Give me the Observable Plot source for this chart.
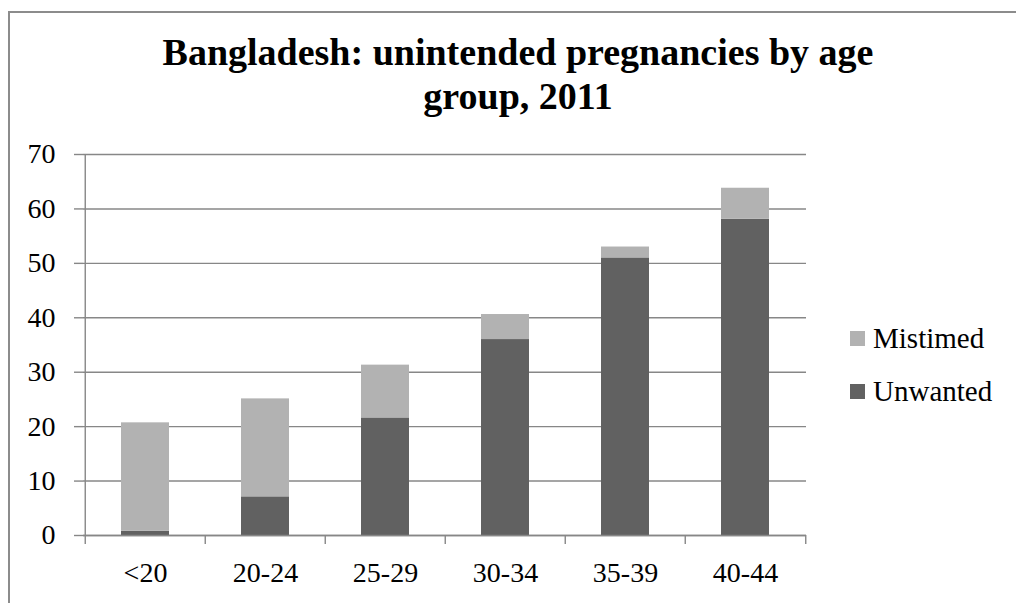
<!DOCTYPE html>
<html>
<head>
<meta charset="utf-8">
<script src="https://cdn.jsdelivr.net/npm/d3@7"></script>
<script src="https://cdn.jsdelivr.net/npm/@observablehq/plot@0.6"></script>
<style>
  html, body { margin: 0; padding: 0; background: #fff; }
  #page { position: relative; width: 1016px; height: 603px; overflow: hidden; font-family: "Liberation Serif", "DejaVu Serif", serif; }
  #box { position: absolute; left: 8px; top: 11px; width: 1200px; height: 800px; border-left: 2px solid #8c8c8c; border-top: 2px solid #8c8c8c; }
  #title { position: absolute; left: 8px; top: 30px; width: 1020px; text-align: center; font-weight: bold; font-size: 38px; line-height: 44px; color: #000; }
  #chart { position: absolute; left: 0; top: 0; }
  .legend { position: absolute; left: 850px; font-size: 29px; line-height: 34px; color: #000; display: flex; align-items: center; }
  .legend span.sw { display: inline-block; width: 15px; height: 15px; margin-right: 8px; }
</style>
</head>
<body>
<div id="page">
  <div id="box"></div>
  <div id="title">Bangladesh: unintended pregnancies by age<br>group, 2011</div>
  <div id="chart"></div>
  <div id="legend"></div>
</div>
<script>
// Age groups and the two components of unintended pregnancies (%)
const ageGroups = ["<20", "20-24", "25-29", "30-34", "35-39", "40-44"];
const unwanted  = [0.8, 7.1, 21.6, 36.0, 51.0, 58.1];
const mistimed  = [19.9, 18.0, 9.7, 4.6, 2.0, 5.7];
const seriesNames = ["Unwanted", "Mistimed"];
const seriesColors = ["#616161", "#b2b2b2"];
const yTicks = [0, 10, 20, 30, 40, 50, 60, 70];

// Long table: Unwanted first so it sits at the bottom of each stack
const rows = [
  ...ageGroups.map((g, i) => ({group: g, series: "Unwanted", value: unwanted[i]})),
  ...ageGroups.map((g, i) => ({group: g, series: "Mistimed", value: mistimed[i]}))
];

const W = 1016, H = 603;
const mL = 83, mR = 210, mT = 154, mB = 68;
const step = (W - mL - mR) / ageGroups.length;
const gridColor = "#878787";

const chart = Plot.plot({
  width: W,
  height: H,
  marginLeft: mL,
  marginRight: mR,
  marginTop: mT,
  marginBottom: mB,
  style: {fontFamily: "'Liberation Serif', serif", fontSize: "28px", color: "#000", background: "transparent"},
  x: {domain: ageGroups, paddingInner: 0.6, paddingOuter: 0.3, label: null},
  y: {domain: [0, 70], label: null},
  color: {domain: seriesNames, range: seriesColors},
  marks: [
    Plot.gridY(yTicks, {stroke: gridColor, strokeOpacity: 1, strokeWidth: 1.4}),
    Plot.axisY(yTicks, {tickSize: 9, tickPadding: 19, stroke: gridColor, strokeWidth: 1.4, fill: "#000", fontSize: 28, label: null}),
    // vertical axis line at the left edge of the first category
    Plot.ruleX([ageGroups[0]], {dx: -step / 2, stroke: gridColor, strokeWidth: 1.4}),
    Plot.barY(rows, {x: "group", y: "value", fill: "series"}),
    // category boundary ticks below the baseline
    Plot.axisX(ageGroups, {dx: -step / 2, tickSize: 9, tickFormat: () => "", stroke: gridColor, strokeWidth: 1.4, label: null}),
    Plot.axisX([ageGroups[ageGroups.length - 1]], {dx: step / 2, tickSize: 9, tickFormat: () => "", stroke: gridColor, strokeWidth: 1.4, label: null}),
    Plot.axisX(ageGroups, {tickSize: 0, tickPadding: 27, fill: "#000", fontSize: 28, label: null}),
    Plot.ruleY([0], {stroke: gridColor, strokeWidth: 1.4})
  ]
});
document.getElementById("chart").appendChild(chart);

// Legend on the right: Mistimed above Unwanted
const legend = document.getElementById("legend");
const legendItems = [
  {name: "Mistimed", color: seriesColors[1], top: 321},
  {name: "Unwanted", color: seriesColors[0], top: 374}
];
for (const item of legendItems) {
  const div = document.createElement("div");
  div.className = "legend";
  div.style.top = item.top + "px";
  div.innerHTML = `<span class="sw" style="background:${item.color}"></span>${item.name}`;
  legend.appendChild(div);
}
</script>
</body>
</html>
